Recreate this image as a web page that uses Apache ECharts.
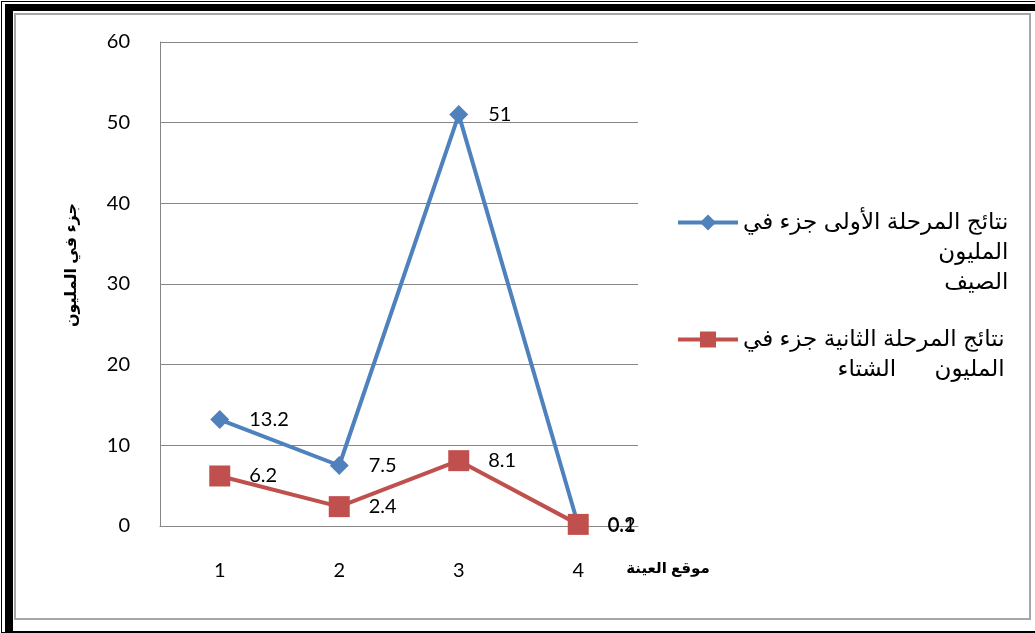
<!DOCTYPE html>
<html><head><meta charset="utf-8">
<script src="https://cdn.jsdelivr.net/npm/echarts@6/dist/echarts.min.js"></script>
<style>
html,body{margin:0;padding:0;background:#fff;}
#wrap{position:relative;width:1035px;height:633px;overflow:hidden;background:#fff;}
#chart{position:absolute;left:0;top:0;width:1035px;height:633px;}
.b{position:absolute;pointer-events:none;}
</style></head>
<body>
<div id="wrap">
<div id="chart"></div>
<div class="b" style="left:1px;top:1px;width:1040px;height:630px;border-left:1px solid #000;border-top:1px solid #000;border-bottom:1px solid #000;"></div>
<div class="b" style="left:5px;top:4px;width:1040px;height:620px;border-left:8px solid #000;border-top:7px solid #000;border-bottom:6px solid #000;"></div>
<div class="b" style="left:14px;top:13px;width:1013px;height:603px;border:2px solid #a6a6a6;"></div>
</div>
<script>
var categories = ['1', '2', '3', '4'];
var summerValues = [13.2, 7.5, 51, 0.1];
var winterValues = [6.2, 2.4, 8.1, 0.2];
var seriesNames = ['نتائج المرحلة الأولى جزء في\nالمليون\nالصيف', 'نتائج المرحلة الثانية جزء في\nالمليون      الشتاء'];
var yTicks = {min: 0, max: 60, interval: 10};
var yAxisName = 'جزء في المليون';
var xAxisName = 'موقع العينة';

var chart = echarts.init(document.getElementById('chart'));
var font = 'Lato, "Open Sans", sans-serif';
var arFont = 'Arial, "DejaVu Sans", sans-serif';
function legendFmt(name) {
  return name.split('\n').map(function (l) { return '{a|' + l + '}'; }).join('\n');
}
function legendCfg(name, top, nLines) {
  return {
    data: [name], orient: 'vertical', left: 671, top: top,
    itemWidth: 60, itemHeight: 20, itemGap: 0,
    formatter: legendFmt, selectedMode: false,
    lineStyle: {width: 4},
    textStyle: {
      padding: [(nLines - 1) * 30, 0, 0, 0],
      rich: {a: {fontFamily: arFont, fontSize: 23, lineHeight: 30, color: '#000', align: 'right'}}
    }
  };
}
chart.setOption({
  animation: false,
  grid: {left: 160, right: 397, top: 42, bottom: 107, containLabel: false},
  legend: [legendCfg(seriesNames[0], 206, 3), legendCfg(seriesNames[1], 323, 2)],
  graphic: [
    {type: 'text', x: 668, y: 569, style: {text: xAxisName, font: 'bold 15px ' + arFont, fill: '#000', align: 'center', verticalAlign: 'middle'}},
    {type: 'text', x: 72, y: 265, rotation: Math.PI / 2, style: {text: yAxisName, font: 'bold 16px ' + arFont, fill: '#000', align: 'center', verticalAlign: 'middle'}}
  ],
  xAxis: {
    type: 'category', data: categories, boundaryGap: true,
    axisLine: {lineStyle: {color: '#868686', width: 1}},
    axisTick: {show: false},
    axisLabel: {fontFamily: font, fontSize: 20, color: '#000', margin: 35}
  },
  yAxis: {
    type: 'value', min: yTicks.min, max: yTicks.max, interval: yTicks.interval,
    axisLine: {show: true, lineStyle: {color: '#868686', width: 1}},
    axisTick: {show: false},
    splitLine: {lineStyle: {color: '#868686', width: 1}},
    axisLabel: {fontFamily: font, fontSize: 20, color: '#000', margin: 30}
  },
  series: [
    {
      name: seriesNames[0], type: 'line', data: summerValues,
      symbol: 'diamond', symbolSize: 19,
      lineStyle: {color: '#4F81BD', width: 4},
      itemStyle: {color: '#4F81BD'},
      label: {show: true, position: 'right', distance: 20, fontFamily: font, fontSize: 20, color: '#000'}
    },
    {
      name: seriesNames[1], type: 'line', data: winterValues,
      symbol: 'rect', symbolSize: 21,
      lineStyle: {color: '#C0504D', width: 4},
      itemStyle: {color: '#C0504D'},
      label: {show: true, position: 'right', distance: 19, fontFamily: font, fontSize: 20, color: '#000'}
    }
  ]
});
</script>
</body></html>
